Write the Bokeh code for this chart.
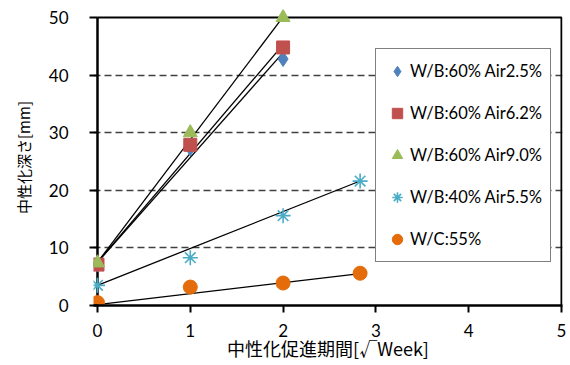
from bokeh.plotting import figure
from bokeh.models import Range1d, FixedTicker, Legend, LegendItem
from bokeh.embed import file_html
from bokeh.resources import INLINE

# ---- data ----
x_short = [0, 1, 2]                 # sqrt(week)
x_long = [0, 1, 2, 2.83]
wb60_air25 = [7.1, 27.3, 42.8]
wb60_air62 = [7.1, 27.9, 44.8]
wb60_air90 = [7.4, 30.0, 50.0]
wb40_air55 = [3.5, 8.3, 15.6, 21.6]
wc55 = [0.5, 3.2, 3.9, 5.6]
series_labels = ["W/B:60% Air2.5%", "W/B:60% Air6.2%", "W/B:60% Air9.0%",
                 "W/B:40% Air5.5%", "W/C:55%"]
# approximate trend lines (intercept, slope) as drawn in the picture
trend_intercepts = [7.5, 7.5, 7.5, 3.5, 0.15]
trend_slopes = [18.2, 18.9, 21.3, 6.4, 1.9]
x_ticks = [0, 1, 2, 3, 4, 5]
y_ticks = [0, 10, 20, 30, 40, 50]
grid_ticks = [10, 20, 30, 40]
x_title = "中性化促進期間[√Week]"
y_title = "中性化深さ[mm]"

p = figure(width=570, height=365, output_backend="svg", toolbar_location=None,
           x_range=Range1d(-0.043, 5.011), y_range=Range1d(0, 51.39),
           min_border_left=93, min_border_right=8, min_border_top=9,
           min_border_bottom=60)
p.outline_line_color = None
p.background_fill_color = "white"
p.border_fill_color = "white"

# grid
p.xgrid.visible = False
p.ygrid.ticker = FixedTicker(ticks=grid_ticks)
p.ygrid.grid_line_color = "#404040"
p.ygrid.grid_line_dash = "7 4"
p.ygrid.grid_line_width = 1.3

for ax in (p.xaxis[0], p.yaxis[0]):
    ax.axis_line_color = "black"
    ax.axis_line_width = 2.5
    ax.major_tick_line_color = "black"
    ax.major_tick_line_width = 2
    ax.minor_tick_line_color = None
    ax.major_label_text_font = "Lato"
    ax.major_label_text_font_size = "17px"
    ax.major_label_text_color = "black"
    ax.axis_label_text_font = "Noto Sans CJK JP"
    ax.axis_label_text_font_style = "normal"
    ax.axis_label_text_color = "black"

p.xaxis[0].ticker = FixedTicker(ticks=x_ticks)
p.xaxis[0].major_tick_in = 0
p.xaxis[0].major_tick_out = 7
p.xaxis[0].major_label_standoff = 11
p.xaxis[0].axis_label = x_title
p.xaxis[0].axis_label_text_font_size = "18px"
p.xaxis[0].axis_label_standoff = -5

p.yaxis[0].ticker = FixedTicker(ticks=y_ticks)
p.yaxis[0].axis_line_color = None
p.yaxis[0].major_tick_in = 4
p.yaxis[0].major_tick_out = 4
p.yaxis[0].major_label_standoff = 21
p.yaxis[0].axis_label = y_title
p.yaxis[0].axis_label_text_font_size = "15px"
p.yaxis[0].axis_label_standoff = 12

# y axis line at x=0, frame top / right border
p.line(x=[x_ticks[0], x_ticks[0]], y=[y_ticks[0], y_ticks[-1]],
       line_color="black", line_width=2.5)
p.line(x=[x_ticks[0], x_ticks[-1], x_ticks[-1]],
       y=[y_ticks[-1], y_ticks[-1], y_ticks[0]],
       line_color="black", line_width=2)

# trend lines
xs_list = [x_short, x_short, x_short, x_long, x_long]
for xs, b, m in zip(xs_list, trend_intercepts, trend_slopes):
    x0, x1 = xs[0], xs[-1]
    p.line(x=[x0, x1], y=[b + m * x0, b + m * x1], line_color="black", line_width=1.3)

# markers
r_d = p.scatter(x_short, wb60_air25, marker="diamond", size=15,
                fill_color="#4F81BD", line_color="#4F81BD")
r_s = p.scatter(x_short, wb60_air62, marker="square", size=13,
                fill_color="#C0504D", line_color="#C0504D")
r_t = p.scatter(x_short, wb60_air90, marker="triangle", size=14,
                fill_color="#9BBB59", line_color="#9BBB59")
r_a = p.scatter(x_long, wb40_air55, marker="asterisk", size=15,
                line_color="#4BACC6", line_width=1.6)
r_c = p.scatter(x_long, wc55, marker="circle", size=14,
                fill_color="#E46C0A", line_color="#E46C0A")

items = [LegendItem(label=lab, renderers=[r]) for lab, r in
         zip(series_labels, [r_d, r_s, r_t, r_a, r_c])]
legend = Legend(items=items, location=(282, 43), orientation="vertical",
                label_text_font="Lato", label_text_font_size="16.5px",
                label_text_color="black", glyph_width=26, glyph_height=28,
                label_height=28, label_standoff=0, spacing=14, padding=8,
                margin=0, border_line_color="black", border_line_width=1,
                background_fill_color="white", background_fill_alpha=1)
p.add_layout(legend, "center")

open("out.html", "w").write(file_html(p, INLINE))
